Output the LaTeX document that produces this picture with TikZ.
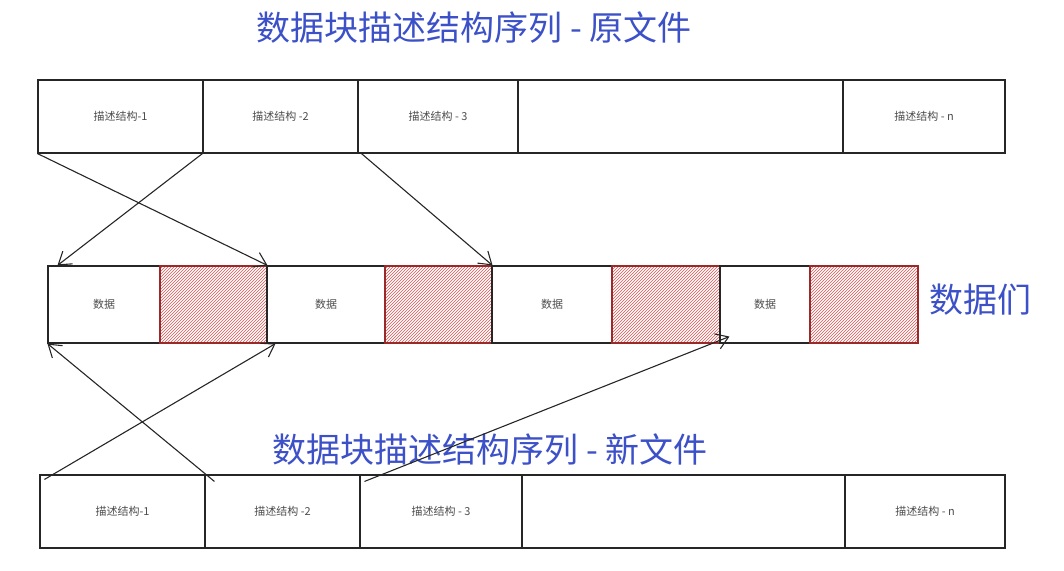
\documentclass[tikz,border=0pt]{standalone}
\usepackage{fontspec}
\setmainfont{Noto Sans CJK SC}
\usetikzlibrary{patterns,arrows.meta}
\definecolor{inkblue}{RGB}{60,80,200}
\definecolor{hatchred}{RGB}{220,60,60}
\tikzset{
  cell/.style={draw=black!85, line width=1.1pt, inner sep=0pt, font=\fontsize{11}{13}\selectfont, text=black!70},
  hot/.style={cell, draw=hatchred!70!black, fill=hatchred!22, pattern color=hatchred!90, pattern=north east lines},
  title/.style={text=inkblue, font=\fontsize{34}{38}\selectfont},
  link/.style={-{Straight Barb[length=12pt,width=16pt]}, line width=1.1pt, black!85}
}
\begin{document}
\begin{tikzpicture}[x=1pt,y=-1pt]
\useasboundingbox (0,0) rectangle (1064,570);
% titles
\node[title] (ttop) at (474,28) {数据块描述结构序列 - 原文件};
\node[title] (tbot) at (490,450) {数据块描述结构序列 - 新文件};
\node[title] (tdata) at (980,300) {数据们};
% original file
\node[cell, minimum width=165, minimum height=73] (t1) at (120.5,116.5) {描述结构-1};
\node[cell, minimum width=155, minimum height=73] (t2) at (280.5,116.5) {描述结构 -2};
\node[cell, minimum width=160, minimum height=73] (t3) at (438,116.5) {描述结构 - 3};
\node[cell, minimum width=325, minimum height=73] (t4) at (680.5,116.5) {};
\node[cell, minimum width=162, minimum height=73] (t5) at (924,116.5) {描述结构 - n};
% data
\node[cell, minimum width=112, minimum height=77] (m1) at (104,304.5) {数据};
\node[hot, minimum width=107, minimum height=77] (m2) at (213.5,304.5) {};
\node[cell, minimum width=118, minimum height=77] (m3) at (326,304.5) {数据};
\node[hot, minimum width=107, minimum height=77] (m4) at (438.5,304.5) {};
\node[cell, minimum width=120, minimum height=77] (m5) at (552,304.5) {数据};
\node[hot, minimum width=108, minimum height=77] (m6) at (666,304.5) {};
\node[cell, minimum width=90, minimum height=77] (m7) at (765,304.5) {数据};
\node[hot, minimum width=108, minimum height=77] (m8) at (864,304.5) {};
% new file
\node[cell, minimum width=165, minimum height=73] (b1) at (122.5,511.5) {描述结构-1};
\node[cell, minimum width=155, minimum height=73] (b2) at (282.5,511.5) {描述结构 -2};
\node[cell, minimum width=162, minimum height=73] (b3) at (441,511.5) {描述结构 - 3};
\node[cell, minimum width=323, minimum height=73] (b4) at (683.5,511.5) {};
\node[cell, minimum width=160, minimum height=73] (b5) at (925,511.5) {描述结构 - n};
% links
\draw[link] (t1.south west) -- (m2.north east);
\draw[link] (t2.south west) -- ([xshift=10]m1.north west);
\draw[link] ([xshift=4]t3.south west) -- (m4.north east);
\draw[link] ([xshift=10,yshift=-7]b2.north west) -- (m1.south west);
\draw[link] ([xshift=5,yshift=-5]b1.north west) -- ([xshift=8]m2.south east);
\draw[link] ([xshift=5,yshift=-7]b3.north west) -- ([xshift=10,yshift=7]m7.south west);
\end{tikzpicture}
\end{document}
